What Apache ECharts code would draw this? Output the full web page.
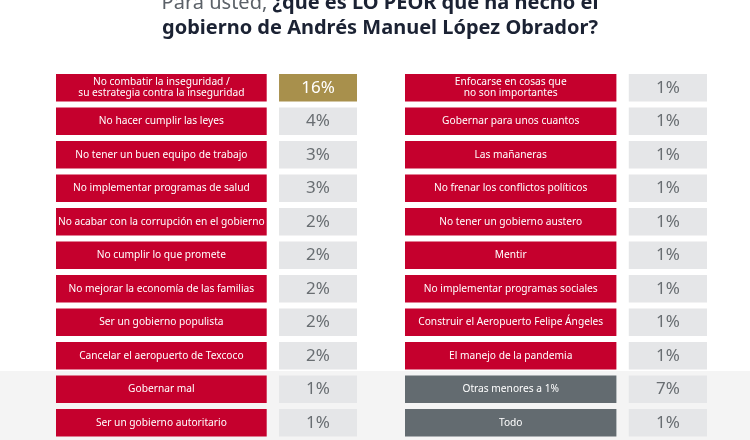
<!DOCTYPE html>
<html>
<head>
<meta charset="utf-8">
<script src="https://cdn.jsdelivr.net/npm/echarts@6/dist/echarts.min.js"></script>
<style>html,body{margin:0;padding:0;background:#fff}#c{width:750px;height:440px}</style>
</head>
<body>
<div id="c"></div>
<script>
const leftLabels = [
  'No combatir la inseguridad /\nsu estrategia contra la inseguridad',
  'No hacer cumplir las leyes',
  'No tener un buen equipo de trabajo',
  'No implementar programas de salud',
  'No acabar con la corrupción en el gobierno',
  'No cumplir lo que promete',
  'No mejorar la economía de las familias',
  'Ser un gobierno populista',
  'Cancelar el aeropuerto de Texcoco',
  'Gobernar mal',
  'Ser un gobierno autoritario'
];
const leftValues = [16, 4, 3, 3, 2, 2, 2, 2, 2, 1, 1];
const leftKinds = ['top', 'main', 'main', 'main', 'main', 'main', 'main', 'main', 'main', 'main', 'main'];

const rightLabels = [
  'Enfocarse en cosas que\nno son importantes',
  'Gobernar para unos cuantos',
  'Las mañaneras',
  'No frenar los conflictos políticos',
  'No tener un gobierno austero',
  'Mentir',
  'No implementar programas sociales',
  'Construir el Aeropuerto Felipe Ángeles',
  'El manejo de la pandemia',
  'Otras menores a 1%',
  'Todo'
];
const rightValues = [1, 1, 1, 1, 1, 1, 1, 1, 1, 7, 1];
const rightKinds = ['main', 'main', 'main', 'main', 'main', 'main', 'main', 'main', 'main', 'other', 'other'];

const RED = '#c5002d', GOLD = '#a8904c', SLATE = '#636b70', LIGHT = '#e5e6e8';
const FONT = 'Noto Sans';

function makeRender(labels, values, kinds) {
  return function (params, api) {
    const row = api.value(0);
    const band = api.size([0, 1])[1];
    const h = band * 0.82;
    const yc = api.coord([0, row])[1];
    const xa = api.coord([0, row])[0];
    const xb = api.coord([0.7, row])[0];
    const xc = api.coord([0.741, row])[0];
    const xd = api.coord([1, row])[0];
    const kind = kinds[row];
    const labelFill = kind === 'other' ? SLATE : RED;
    const valueFill = kind === 'top' ? GOLD : LIGHT;
    const valueText = kind === 'top' ? '#ffffff' : '#696e72';
    return {
      type: 'group',
      children: [
        {
          type: 'rect',
          shape: { x: xa, y: yc - h / 2, width: xb - xa, height: h },
          style: { fill: labelFill },
          textContent: {
            style: { text: labels[row], fill: '#fff', fontFamily: FONT, fontSize: 10.2, lineHeight: 11, align: 'center' }
          },
          textConfig: { position: 'inside' }
        },
        {
          type: 'rect',
          shape: { x: xc, y: yc - h / 2, width: xd - xc, height: h },
          style: { fill: valueFill },
          textContent: {
            style: { text: values[row] + '%', fill: valueText, fontFamily: FONT, fontSize: 17 }
          },
          textConfig: { position: 'inside' }
        }
      ]
    };
  };
}

const chart = echarts.init(document.getElementById('c'), null, { renderer: 'canvas' });
const idx = leftLabels.map((_, i) => i);
const gridBase = { top: 71, height: 368.5 };
chart.setOption({
  backgroundColor: '#ffffff',
  animation: false,
  graphic: [
    { type: 'rect', left: 0, top: 371, z: -10, shape: { width: 750, height: 69 }, style: { fill: '#f4f4f4' } },
    {
      type: 'text', x: 380, y: -9, z: 10,
      style: {
        text: '{r|Para usted, }{b|¿qué es LO PEOR que ha hecho el}\n{b|gobierno de Andrés Manuel López Obrador?}',
        align: 'center', verticalAlign: 'top',
        rich: {
          r: { fontFamily: FONT, fontSize: 20, fill: '#5b6168', fontWeight: 'normal', lineHeight: 25 },
          b: { fontFamily: FONT, fontSize: 20, fill: '#1b2233', fontWeight: 'bold', lineHeight: 25 }
        }
      }
    }
  ],
  grid: [
    Object.assign({ left: 56, width: 301 }, gridBase),
    Object.assign({ left: 405, width: 302 }, gridBase)
  ],
  xAxis: [
    { gridIndex: 0, type: 'value', min: 0, max: 1, show: false },
    { gridIndex: 1, type: 'value', min: 0, max: 1, show: false }
  ],
  yAxis: [
    { gridIndex: 0, type: 'category', inverse: true, data: leftLabels, show: false },
    { gridIndex: 1, type: 'category', inverse: true, data: rightLabels, show: false }
  ],
  series: [
    { type: 'custom', xAxisIndex: 0, yAxisIndex: 0, encode: { y: 0 }, data: idx.map(i => [i, leftValues[i]]), renderItem: makeRender(leftLabels, leftValues, leftKinds) },
    { type: 'custom', xAxisIndex: 1, yAxisIndex: 1, encode: { y: 0 }, data: idx.map(i => [i, rightValues[i]]), renderItem: makeRender(rightLabels, rightValues, rightKinds) }
  ]
});
</script>
</body>
</html>
